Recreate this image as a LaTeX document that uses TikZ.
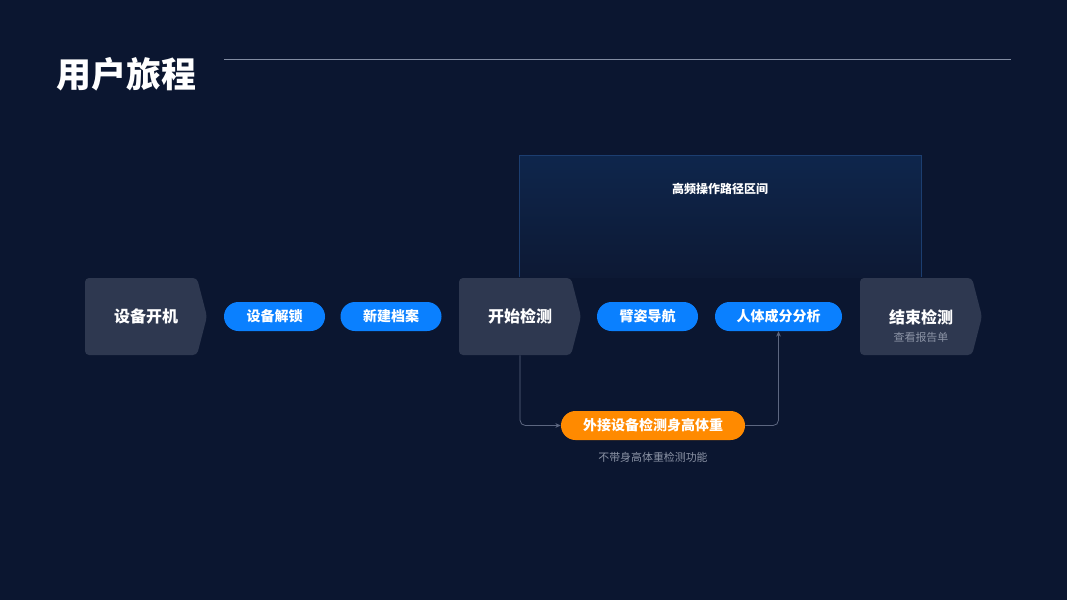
\documentclass[tikz,border=0pt]{standalone}
\usepackage{fontspec}
\setmainfont{Noto Sans CJK SC}
\usetikzlibrary{shapes.misc, positioning, arrows.meta}
\definecolor{cBg}{RGB}{11,22,48}
\definecolor{cStage}{RGB}{46,56,80}
\definecolor{cPill}{RGB}{10,128,255}
\definecolor{cOrange}{RGB}{255,138,0}
\definecolor{cLink}{RGB}{92,102,128}
\definecolor{cRule}{RGB}{130,140,162}
\definecolor{cZoneTop}{RGB}{14,38,76}
\definecolor{cZoneBot}{RGB}{13,25,52}
\definecolor{cZoneLine}{RGB}{28,62,112}
\definecolor{cNote}{RGB}{140,148,166}

\begin{document}
\begin{tikzpicture}[x=0.75pt, y=-0.75pt, >={Stealth[length=4pt, width=3.5pt]}, font=\bfseries]

% ------------------- 样式 -------------------
\tikzstyle{stage} = [rectangle, minimum width=91.5pt, minimum height=57.75pt, inner sep=0pt, text=white, font=\fontsize{12pt}{14pt}\selectfont\bfseries,
  path picture={\fill[cStage, rounded corners=3pt] (path picture bounding box.south west) -- (path picture bounding box.north west) -- ([xshift=-7.5pt]path picture bounding box.north east) -- (path picture bounding box.east) -- ([xshift=-7.5pt]path picture bounding box.south east) -- cycle;}]
\tikzstyle{action} = [rounded rectangle, fill=cPill, minimum width=75.75pt, minimum height=21.75pt, inner sep=0pt, text=white, font=\fontsize{10.5pt}{12pt}\selectfont\bfseries]
\tikzstyle{link} = [->, draw=cLink, line width=0.6pt, rounded corners=4pt]
\tikzstyle{note} = [text=cNote, font=\fontsize{8.2pt}{10pt}\selectfont\mdseries]

% ------------------- 背景与标题 -------------------
\fill[cBg] (0,0) rectangle (1067,600);
\useasboundingbox (0,0) rectangle (1067,600);
\node[anchor=west, inner sep=0pt, text=white, font=\fontsize{26.2pt}{28pt}\selectfont\bfseries] (title) at (56.5,74) {用户旅程};
\draw[cRule, line width=0.6pt] (224,59) -- (1011,59);

% ------------------- 高频区间 -------------------
\shade[top color=cZoneTop, bottom color=cZoneBot] (519,155) rectangle (921,277);
\draw[cZoneLine, line width=0.6pt] (519,277) |- (921,155) -- (921,277);
\node[text=white, font=\fontsize{9pt}{11pt}\selectfont\bfseries] (zoneLabel) at (720,189) {高频操作路径区间};

% ------------------- 主流程 -------------------
\node[stage] (powerOn) at (146,316.5) {设备开机};
\node[action] (unlock) at (274.5,316.5) {设备解锁};
\node[action] (newFile) at (391,316.5) {新建档案};
\node[stage] (startTest) at (520,316.5) {开始检测};
\node[action] (armGuide) at (647.5,316.5) {臂姿导航};
\node[action, minimum width=95.25pt] (bodyComp) at (778.5,316.5) {人体成分分析};
\node[stage] (endTest) at (921,316.5) {};
\node[text=white, font=\fontsize{12pt}{14pt}\selectfont\bfseries] (endTitle) at (921,317.5) {结束检测};
\node[note] (endSub) at (921,337) {查看报告单};

% ------------------- 外接设备分支 -------------------
\node[action, fill=cOrange, minimum width=138pt] (extScale) at (653,425.5) {外接设备检测身高体重};
\node[note] (extNote) at (653,457) {不带身高体重检测功能};

\draw[link] (startTest.south) |- (extScale.west);
\draw[link] (extScale.east) -| (bodyComp.south);

\end{tikzpicture}
\end{document}
